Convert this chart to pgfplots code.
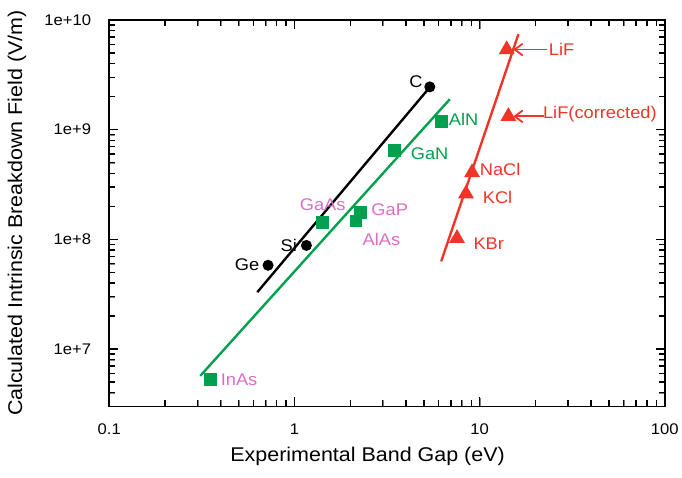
\documentclass[border=0pt]{standalone}
\usepackage{fontspec}
\setmainfont{Liberation Sans}[FakeStretch=1.08]
\usepackage{pgfplots}
\pgfplotsset{compat=1.18}
\usetikzlibrary{arrows.meta}
\definecolor{fitgreen}{RGB}{0,160,78}
\definecolor{labpink}{RGB}{218,110,196}
\definecolor{fitred}{RGB}{242,52,40}
\begin{document}
\begin{tikzpicture}
\begin{axis}[
  xmode=log, ymode=log,
  xmin=0.1, xmax=100, ymin=3e6, ymax=1e10,
  scale only axis, width=559pt, height=389pt,
  xtick={0.1,1,10,100}, xticklabels={0.1,1,10,100},
  ytick={1e7,1e8,1e9,1e10},
  yticklabels={1e+7\hspace*{14pt},1e+8\hspace*{14pt},1e+9\hspace*{14pt},1e+10\hspace*{14pt}},
  minor xtick={0.2,0.3,0.4,0.5,0.6,0.7,0.8,0.9,2,3,4,5,6,7,8,9,20,30,40,50,60,70,80,90},
  minor ytick={4e6,5e6,6e6,7e6,8e6,9e6,2e7,3e7,4e7,5e7,6e7,7e7,8e7,9e7,2e8,3e8,4e8,5e8,6e8,7e8,8e8,9e8,2e9,3e9,4e9,5e9,6e9,7e9,8e9,9e9},
  tickwidth=9pt, subtickwidth=6pt,
  axis line style={line width=1.8pt},
  line width=1.8pt,
  /pgf/number format/assume math mode=true,
  tick label style={font=\fontsize{15.5}{18}\selectfont},
  xticklabel style={yshift=-13pt},
  label style={font=\fontsize{20}{24}\selectfont},
  xlabel={Experimental Band Gap (eV)},
  ylabel={Calculated Intrinsic Breakdown Field (V/m)},
  xlabel style={at={(axis description cs:0.465,-0.1285)}, anchor=center},
  ylabel style={at={(axis description cs:-0.1664,0.5)}, anchor=center},
  clip=false,
]
% tick marks drawn inside on all four sides (both ends in axis coordinates)
\pgfplotsinvokeforeach{0.2,0.3,0.4,0.5,0.6,0.7,0.8,0.9,2,3,4,5,6,7,8,9,20,30,40,50,60,70,80,90}{
  \draw[black, line width=1.3pt] (axis cs:#1,3e6) -- (axis cs:#1,3.40e6);
  \draw[black, line width=1.3pt] (axis cs:#1,1e10) -- (axis cs:#1,8.83e9);
}
\pgfplotsinvokeforeach{1,10}{
  \draw[black, line width=1.3pt] (axis cs:#1,3e6) -- (axis cs:#1,3.62e6);
  \draw[black, line width=1.3pt] (axis cs:#1,1e10) -- (axis cs:#1,8.29e9);
}
\pgfplotsinvokeforeach{4e6,5e6,6e6,7e6,8e6,9e6,2e7,3e7,4e7,5e7,6e7,7e7,8e7,9e7,2e8,3e8,4e8,5e8,6e8,7e8,8e8,9e8,2e9,3e9,4e9,5e9,6e9,7e9,8e9,9e9}{
  \draw[black, line width=1.3pt] (axis cs:0.1,#1) -- (axis cs:0.1077,#1);
  \draw[black, line width=1.3pt] (axis cs:100,#1) -- (axis cs:92.85,#1);
}
\pgfplotsinvokeforeach{1e7,1e8,1e9}{
  \draw[black, line width=1.3pt] (axis cs:0.1,#1) -- (axis cs:0.1118,#1);
  \draw[black, line width=1.3pt] (axis cs:100,#1) -- (axis cs:89.45,#1);
}
% fit lines
\addplot[black, line width=2.4pt] coordinates {(0.63,3.3e7) (5.4,2.45e9)};
\addplot[fitgreen, line width=2.4pt] coordinates {(0.31,5.7e6) (6.9,1.89e9)};
\addplot[fitred, line width=2.4pt] coordinates {(6.2,6.3e7) (16.2,7.4e9)};
% data
\addplot[only marks, mark=*, mark size=4.6pt, black] coordinates {(0.72,5.8e7) (1.16,8.8e7) (5.38,2.45e9)};
\addplot[only marks, mark=square*, mark size=5.6pt, fitgreen] coordinates {(0.354,5.3e6) (1.42,1.42e8) (2.26,1.74e8) (2.15,1.47e8) (3.45,6.5e8) (6.2,1.18e9)};
\addplot[only marks, mark=triangle*, mark size=7.5pt, fitred] coordinates {(14.0,5.36e9) (14.3,1.32e9) (9.1,4.06e8) (8.44,2.6e8) (7.55,1.02e8)};
% labels
\begin{scope}[every node/.style={font=\fontsize{17}{20}\selectfont, inner sep=0pt}]
\node[black] at (axis cs:4.53,2.71e9) {C};
\node[black] at (axis cs:0.932,8.83e7) {Si};
\node[black] at (axis cs:0.554,5.91e7) {Ge};
\node[fitgreen] at (axis cs:8.20,1.23e9) {AlN};
\node[fitgreen] at (axis cs:5.37,6.07e8) {GaN};
\node[labpink] at (axis cs:1.42,2.06e8) {GaAs};
\node[labpink] at (axis cs:3.27,1.87e8) {GaP};
\node[labpink] at (axis cs:2.95,9.94e7) {AlAs};
\node[labpink] at (axis cs:0.502,5.26e6) {InAs};
\node[fitred] at (axis cs:27.7,5.36e9) {LiF};
\node[fitred] at (axis cs:44.6,1.37e9) {LiF(corrected)};
\node[fitred] at (axis cs:12.9,4.29e8) {NaCl};
\node[fitred] at (axis cs:12.5,2.41e8) {KCl};
\node[fitred] at (axis cs:11.2,9.15e7) {KBr};
\end{scope}
\draw[fitred, line width=1.8pt, -{Straight Barb[length=8pt,width=12pt]}] (axis cs:23.2,5.36e9) -- (axis cs:15.2,5.36e9);
\draw[fitred, line width=1.8pt, -{Straight Barb[length=8pt,width=12pt]}] (axis cs:22.3,1.32e9) -- (axis cs:15.2,1.32e9);
% canvas extent matching the reference margins
\path (rel axis cs:0,0) ++(-110pt,-72pt) coordinate (bbA);
\path (rel axis cs:1,1) ++(13pt,20pt) coordinate (bbB);
\end{axis}
\useasboundingbox (bbA) rectangle (bbB);
\end{tikzpicture}
\end{document}
